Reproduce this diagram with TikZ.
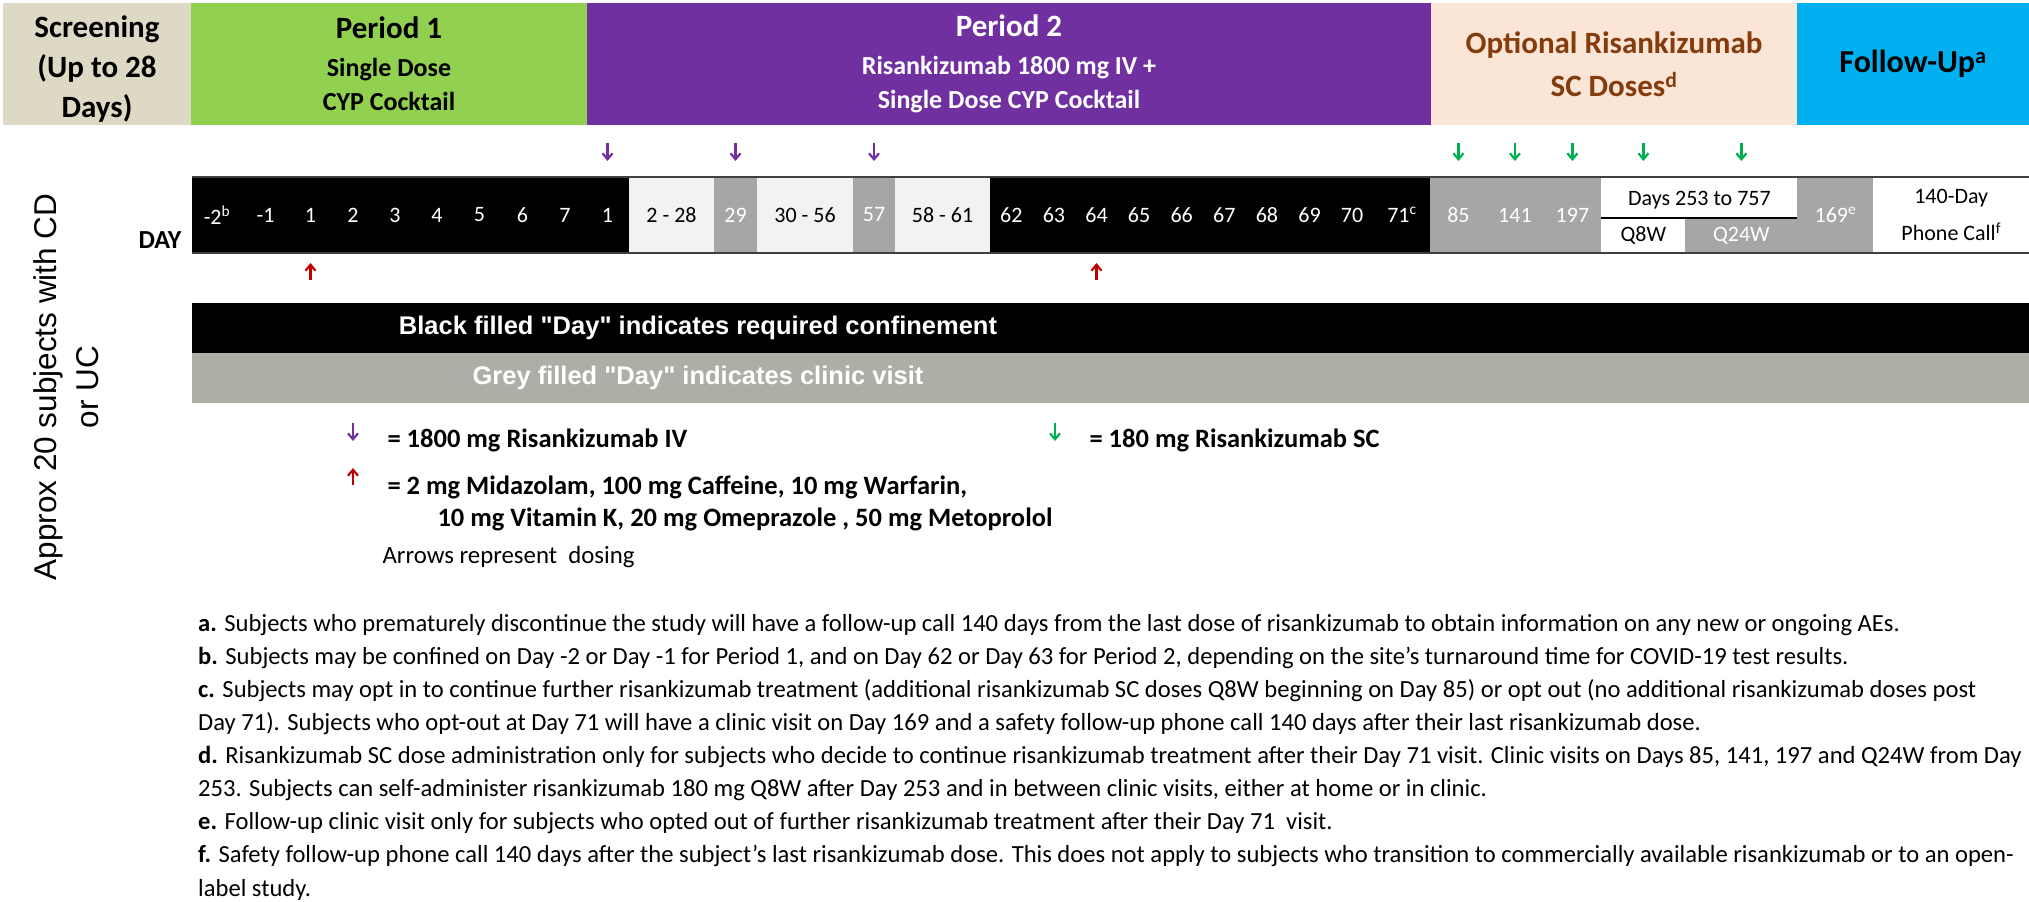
\documentclass[tikz,border=0pt]{standalone}
\usepackage{fontspec}
\setmainfont{Carlito}
\newfontfamily\arialfont{Liberation Sans}
\usetikzlibrary{positioning,chains,calc,arrows.meta}
\definecolor{scrtan}{HTML}{DDD9C4}
\definecolor{p1green}{HTML}{92D050}
\definecolor{p2purple}{HTML}{7030A0}
\definecolor{optpeach}{HTML}{FBE5D6}
\definecolor{optbrown}{HTML}{843C0C}
\definecolor{fucyan}{HTML}{00B0F0}
\definecolor{cellgrey}{HTML}{A6A6A6}
\definecolor{celllight}{HTML}{F2F2F2}
\definecolor{bandgrey}{HTML}{AFAEA6}
\definecolor{scgreen}{HTML}{00B050}
\definecolor{cockred}{HTML}{C00000}
\newcommand\hdtitle{\fontsize{31}{34}\selectfont\bfseries}
\newcommand\hdsub{\fontsize{26}{34}\selectfont\bfseries}
\tikzset{
>={Straight Barb[length=6pt,width=10pt]},
  headbox/.style={
    rectangle,
    inner sep=0pt, outer sep=0pt,
    minimum height=122pt,
    align=center,
    on chain=head},
  cellbase/.style={
    rectangle,
    inner sep=0pt, outer sep=0pt,
    font=\fontsize{22}{26}\selectfont},
  daycell/.style={cellbase, minimum height=76pt, on chain=days},
  confcell/.style={daycell, fill=black, text=white},
  visitcell/.style={daycell, fill=cellgrey, text=white},
  gapcell/.style={daycell, fill=celllight},
  whitecell/.style={daycell, fill=white},
  rowline/.style={draw=black!75, line width=2pt},
  ivdose/.style={->, draw=p2purple, line width=2.2pt},
  scdose/.style={->, draw=scgreen, line width=2.2pt},
  cocktail/.style={->, draw=cockred, line width=2.2pt},
  band/.style={rectangle, inner sep=0pt, outer sep=0pt,
    minimum width=1837pt, minimum height=50pt, anchor=north west},
  bandtext/.style={text=white, font=\arialfont\fontsize{25.5}{30}\selectfont\bfseries},
  keytext/.style={anchor=west, align=left, font=\fontsize{26.5}{32}\selectfont\bfseries},
}

\begin{document}
\begin{tikzpicture}[x=1pt, y=-1pt, node distance=0pt]
  \useasboundingbox (0,0) rectangle (2029,902);

  % study periods
  \begin{scope}[start chain=head going right]
    \coordinate[on chain=head] (headstart) at (3,64);
    \node[headbox, fill=scrtan, minimum width=188pt,
      font=\fontsize{31}{40}\selectfont\bfseries] (scr) {\rule{0pt}{31pt}Screening\\(Up to 28\\Days)};
    \node[headbox, fill=p1green, minimum width=396pt, font=\hdsub] (per1)
      {\hdtitle Period 1\\[4pt]\hdsub Single Dose\\\hdsub CYP Cocktail};
    \node[headbox, fill=p2purple, text=white, minimum width=844pt, font=\hdsub] (per2)
      {\hdtitle Period 2\\[4pt]\hdsub Risankizumab 1800 mg IV +\\\hdsub Single Dose CYP Cocktail};
    \node[headbox, fill=optpeach, text=optbrown, minimum width=366pt,
      font=\fontsize{31}{38}\selectfont\bfseries] (opt) {Optional Risankizumab\\[5pt]SC Doses\textsuperscript{d}};
    \node[headbox, fill=fucyan, minimum width=232pt,
      font=\fontsize{32}{38}\selectfont\bfseries] (fu) {Follow-Up\textsuperscript{a}};
  \end{scope}

  % day row
  \begin{scope}[start chain=days going right]
    \coordinate[on chain=days] (daystart) at (192,215);
    \foreach \lab/\w [count=\k] in {-2\textsuperscript{b}/50,-1/47,1/43,2/42,3/42,4/42,5/43,6/43,7/42,1/43}
      \node[confcell, minimum width=\w] (pa\k) {\lab};
    \node[gapcell, minimum width=85] (g228) {2 - 28};
    \node[visitcell, minimum width=43] (v29) {29};
    \node[gapcell, minimum width=96] (g3056) {30 - 56};
    \node[visitcell, minimum width=42] (v57) {57};
    \node[gapcell, minimum width=95] (g5861) {58 - 61};
    \foreach \lab [count=\k] in {62,...,70}
      \node[confcell, minimum width=42.6] (pb\k) {\lab};
    \node[confcell, minimum width=57] (d71) {71\textsuperscript{c}};
    \node[visitcell, minimum width=56] (s85) {85};
    \node[visitcell, minimum width=57] (s141) {141};
    \node[visitcell, minimum width=58] (s197) {197};
    \node[whitecell, minimum width=196] (d253) {};
    \node[visitcell, minimum width=76] (d169) {169\textsuperscript{e}};
    \node[whitecell, minimum width=155.6, align=center,
      font=\fontsize{22}{37}\selectfont] (phone) {140-Day\\Phone Call\textsuperscript{f}};
  \end{scope}

  \node[cellbase, anchor=south west, fill=white, minimum width=84, minimum height=35] (q8w) at (d253.south west) {Q8W};
  \node[cellbase, right=0pt of q8w, fill=cellgrey, text=white, minimum width=112, minimum height=35] (q24w) {Q24W};
  \node[cellbase] (span) at ($(d253.north)+(0,23)$) {Days 253 to 757};
  \draw[line width=2.5pt] (d253.west |- q8w.north) -- (d253.east |- q8w.north);

  \draw[rowline] (pa1.north west) -- (phone.north east);
  \draw[rowline] (pa1.south west) -- (phone.south east);
  \node[anchor=east, font=\fontsize{26}{30}\selectfont\bfseries] (daytag) at ($(pa1.west)+(-7,25)$) {DAY};

  % dosing
  \foreach \n in {pa10,v29,v57}
    \draw[ivdose] ($(\n.north)+(0,-34)$) -- ++(0,18);
  \foreach \n in {s85,s141,s197,q8w,q24w}
    \draw[scdose] ($(\n |- pa1.north)+(0,-34)$) -- ++(0,18);
  \foreach \n in {pa3,pb3}
    \draw[cocktail] ($(\n.south)+(0,27)$) -- ++(0,-17);

  % shading key
  \node[band, fill=black] (confband) at (192,303) {};
  \node[band, fill=bandgrey, below=0pt of confband] (visitband) {};
  \node[bandtext] (confnote) at ($(confband.west)+(506,0)$) {Black filled "Day" indicates required confinement};
  \node[bandtext] (visitnote) at ($(visitband.west)+(506,0)$) {Grey filled "Day" indicates clinic visit};

  % dosing key
  \node[keytext] (ivkey) at (384,440) {= 1800 mg Risankizumab IV};
  \node[keytext] (sckey) at (1086,440) {= 180 mg Risankizumab SC};
  \node[keytext] (cockkey) at (384,503)
    {= 2 mg Midazolam, 100 mg Caffeine, 10 mg Warfarin,\\\hspace*{50pt}10 mg Vitamin K, 20 mg Omeprazole , 50 mg Metoprolol};
  \node[anchor=west, font=\fontsize{24.8}{28}\selectfont] (dosenote) at (379,557) {Arrows represent~ dosing};
  \draw[ivdose] ($(ivkey.west)+(-31,-17)$) -- ++(0,18);
  \draw[scdose] ($(sckey.west)+(-31,-17)$) -- ++(0,18);
  \draw[cocktail] ($(cockkey.west)+(-31,-18)$) -- ++(0,-17);

  \node[rotate=90, align=center, font=\arialfont\fontsize{31.5}{42}\selectfont] (cohort) at (66,387)
    {Approx 20 subjects with CD\\or UC};

  % footnotes
  \node[anchor=north west, align=left, inner sep=0pt, font=\fontsize{24.6}{33.1}\selectfont] (notes) at (198,614)
    {\textbf{a.} Subjects who prematurely discontinue the study will have a follow-up call 140 days from the last dose of risankizumab to obtain information on any new or ongoing AEs.\\
     \textbf{b.} Subjects may be confined on Day -2 or Day -1 for Period 1, and on Day 62 or Day 63 for Period 2, depending on the site's turnaround time for COVID-19 test results.\\
     \textbf{c.} Subjects may opt in to continue further risankizumab treatment (additional risankizumab SC doses Q8W beginning on Day 85) or opt out (no additional risankizumab doses post\\
     Day 71). Subjects who opt-out at Day 71 will have a clinic visit on Day 169 and a safety follow-up phone call 140 days after their last risankizumab dose.\\
     \textbf{d.} Risankizumab SC dose administration only for subjects who decide to continue risankizumab treatment after their Day 71 visit. Clinic visits on Days 85, 141, 197 and Q24W from Day\\
     253. Subjects can self-administer risankizumab 180 mg Q8W after Day 253 and in between clinic visits, either at home or in clinic.\\
     \textbf{e.} Follow-up clinic visit only for subjects who opted out of further risankizumab treatment after their Day 71~ visit.\\
     \textbf{f.} Safety follow-up phone call 140 days after the subject's last risankizumab dose. This does not apply to subjects who transition to commercially available risankizumab or to an open-\\
     label study.};
\end{tikzpicture}
\end{document}
